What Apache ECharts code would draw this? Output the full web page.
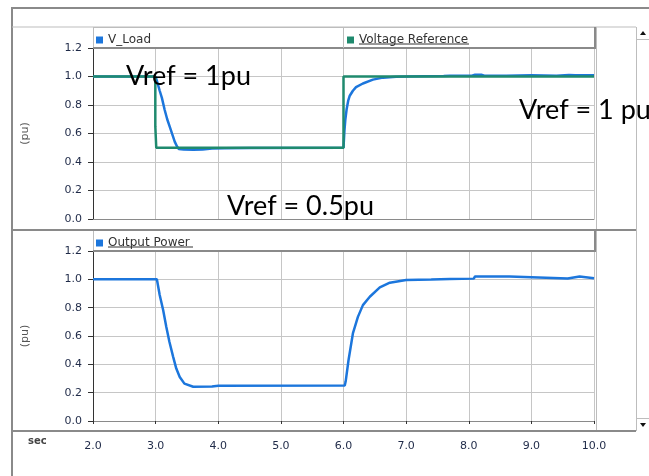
<!DOCTYPE html>
<html>
<head>
<meta charset="utf-8">
<script src="https://cdn.jsdelivr.net/npm/echarts@6/dist/echarts.min.js"></script>
<style>
  html, body { margin: 0; padding: 0; background: #ffffff; }
  #chart { width: 649px; height: 476px; }
</style>
</head>
<body>
<div id="chart"></div>
<script>
// Time base (seconds) and per-unit values for each trace
const vLoadTime   = [2.0, 3.0, 3.02, 3.065, 3.1, 3.145, 3.185, 3.225, 3.265, 3.305, 3.34, 3.37, 3.45, 3.6, 3.75, 3.9, 4.1, 4.5, 6.0, 6.015, 6.03, 6.05, 6.075, 6.1, 6.15, 6.2, 6.31, 6.47, 6.63, 6.84, 7.0, 7.6, 7.7, 8.05, 8.1, 8.2, 8.25, 8.6, 9.0, 9.4, 9.6, 9.7, 10.0];
const vLoadValues = [1.0, 1.0, 0.97, 0.90, 0.85, 0.765, 0.70, 0.648, 0.595, 0.543, 0.51, 0.492, 0.487, 0.486, 0.488, 0.495, 0.497, 0.499, 0.5, 0.62, 0.70, 0.77, 0.83, 0.865, 0.90, 0.925, 0.951, 0.978, 0.992, 0.999, 1.0, 1.003, 1.006, 1.006, 1.012, 1.012, 1.006, 1.006, 1.008, 1.006, 1.01, 1.008, 1.008];

const vRefTime   = [2.0, 2.995, 2.995, 3.01, 3.01, 6.0, 6.0, 10.0];
const vRefValues = [1.0, 1.0, 0.65, 0.65, 0.5, 0.5, 1.0, 1.0];

const powerTime   = [2.0, 3.02, 3.065, 3.12, 3.17, 3.22, 3.28, 3.33, 3.385, 3.46, 3.6, 3.9, 4.0, 6.02, 6.035, 6.08, 6.15, 6.23, 6.31, 6.42, 6.58, 6.74, 7.0, 7.4, 7.7, 8.08, 8.1, 8.65, 8.68, 9.58, 9.6, 9.77, 9.8, 10.0];
const powerValues = [1.0, 1.0, 0.889, 0.783, 0.665, 0.559, 0.453, 0.37, 0.311, 0.264, 0.242, 0.243, 0.248, 0.25, 0.28, 0.429, 0.618, 0.735, 0.818, 0.877, 0.943, 0.976, 0.995, 0.999, 1.003, 1.005, 1.02, 1.02, 1.006, 1.006, 1.02, 1.02, 1.008, 1.008];

const seriesNames = ['V_Load', 'Voltage Reference', 'Output Power'];
const yTicks = ['0.0', '0.2', '0.4', '0.6', '0.8', '1.0', '1.2'];
const xTicks = ['2.0', '3.0', '4.0', '5.0', '6.0', '7.0', '8.0', '9.0', '10.0'];
const notes = ['Vref = 1pu', 'Vref = 0.5pu', 'Vref = 1 pu'];

const pairs = (t, v) => t.map((x, i) => [x, v[i]]);

const UI_FONT = 'DejaVu Sans';
const TICK_COLOR = '#1f2a48';
const FRAME = '#8a8a8a';
const LIGHT = '#bdbdbd';
const GRID_LINE = '#c6c6c6';

function valueAxis(gridIndex) {
  return {
    type: 'value', gridIndex, min: 0, max: 1.2, interval: 0.2,
    name: '(pu)', nameLocation: 'middle', nameGap: 62, nameRotate: 90,
    nameTextStyle: { color: '#555', fontFamily: UI_FONT, fontSize: 11 },
    axisLine: { show: true, lineStyle: { color: '#333', width: 1 } },
    axisTick: { show: true, length: 5, lineStyle: { color: '#333' } },
    axisLabel: {
      margin: 11, color: TICK_COLOR, fontFamily: UI_FONT, fontSize: 11,
      formatter: v => yTicks[Math.round(v / 0.2)]
    },
    splitLine: { show: true, lineStyle: { color: GRID_LINE, width: 1 } }
  };
}

function timeAxis(gridIndex, extra) {
  return Object.assign({
    type: 'value', gridIndex, min: 2, max: 10, interval: 1,
    axisLine: { show: true, onZero: false, lineStyle: { color: FRAME, width: 1 } },
    axisTick: { show: false },
    axisLabel: { show: false },
    splitLine: { show: true, lineStyle: { color: GRID_LINE, width: 1 } }
  }, extra || {});
}

const line = (x1, y1, x2, y2, color, w) => ({
  type: 'line', silent: true, z: 1,
  shape: { x1, y1, x2, y2 }, style: { stroke: color, lineWidth: w }
});

const note = (text, x, y) => ({
  type: 'text', z: 100, silent: true,
  style: { text, x, y, fill: '#000', font: '27px Lato', textVerticalAlign: 'middle' }
});

const legendText = { color: '#333', fontFamily: UI_FONT, fontSize: 12 };

const chart = echarts.init(document.getElementById('chart'), null, { renderer: 'canvas' });

chart.setOption({
  animation: false,
  backgroundColor: '#ffffff',
  grid: [
    { left: 93, right: 55, top: 48, height: 171, containLabel: false },
    { left: 93, right: 55, top: 251, height: 170, containLabel: false }
  ],
  xAxis: [
    timeAxis(0),
    timeAxis(1),
    // time scale printed below the lower panel
    timeAxis(1, {
      position: 'bottom', offset: 11,
      axisLine: { show: false },
      axisTick: { show: true, length: 3, lineStyle: { color: '#333' } },
      axisLabel: {
        show: true, margin: 9, color: TICK_COLOR, fontFamily: UI_FONT, fontSize: 11,
        formatter: v => xTicks[Math.round(v - 2)]
      },
      splitLine: { show: false }
    })
  ],
  yAxis: [valueAxis(0), valueAxis(1)],
  legend: [
    {
      data: [seriesNames[0]], left: 96, top: 34, padding: 0,
      icon: 'rect', itemWidth: 7, itemHeight: 7, textStyle: legendText
    },
    {
      data: [seriesNames[1]], left: 347, top: 34, padding: 0,
      icon: 'rect', itemWidth: 7, itemHeight: 7, textStyle: legendText
    },
    {
      data: [seriesNames[2]], left: 96, top: 237, padding: 0,
      icon: 'rect', itemWidth: 7, itemHeight: 7, textStyle: legendText
    }
  ],
  series: [
    {
      name: seriesNames[0], type: 'line', xAxisIndex: 0, yAxisIndex: 0,
      data: pairs(vLoadTime, vLoadValues), showSymbol: false, z: 3,
      color: '#1c76dc', lineStyle: { width: 2.5, color: '#1c76dc' }
    },
    {
      name: seriesNames[1], type: 'line', xAxisIndex: 0, yAxisIndex: 0,
      data: pairs(vRefTime, vRefValues), showSymbol: false, z: 4,
      color: '#1f8a6e', lineStyle: { width: 2.5, color: '#1f8a6e' }
    },
    {
      name: seriesNames[2], type: 'line', xAxisIndex: 1, yAxisIndex: 1,
      data: pairs(powerTime, powerValues), showSymbol: false, z: 3,
      color: '#1c76dc', lineStyle: { width: 2.5, color: '#1c76dc' }
    }
  ],
  graphic: [
    // outer frame
    line(11, 8, 649, 8, FRAME, 2),
    line(12, 8, 12, 476, FRAME, 2),
    line(12, 27, 636, 27, LIGHT, 1),
    line(636.5, 27, 636.5, 431, LIGHT, 1),
    line(596.5, 27, 596.5, 431, LIGHT, 1),
    line(12, 230, 636, 230, FRAME, 2),
    line(12, 431, 636, 431, FRAME, 2),
    // legend strips
    line(93, 27.5, 595, 27.5, LIGHT, 1),
    line(93.5, 27, 93.5, 48, LIGHT, 1),
    line(93, 48, 596, 48, FRAME, 2),
    line(595, 27, 595, 49, FRAME, 2),
    line(343.5, 28, 343.5, 48, LIGHT, 1),
    line(93.5, 231, 93.5, 251, LIGHT, 1),
    line(93, 251, 596, 251, FRAME, 2),
    line(595, 230, 595, 252, FRAME, 2),
    // underlined legend labels
    line(359, 44, 469, 44, '#333', 1),
    line(108, 247, 193, 247, '#333', 1),
    // scroll arrows
    line(636, 39.5, 649, 39.5, LIGHT, 1),
    line(636, 418.5, 649, 418.5, LIGHT, 1),
    { type: 'polygon', silent: true, shape: { points: [[640, 35], [646, 35], [643, 31]] }, style: { fill: '#111' } },
    { type: 'polygon', silent: true, shape: { points: [[640, 423], [646, 423], [643, 427]] }, style: { fill: '#111' } },
    // axis caption
    { type: 'text', silent: true, style: { text: 'sec', x: 28, y: 441, fill: '#444', font: 'bold 10px "DejaVu Sans"', textVerticalAlign: 'middle' } },
    // set-point annotations
    note(notes[0], 126, 76),
    note(notes[1], 227, 206),
    note(notes[2], 519, 110)
  ]
});
</script>
</body>
</html>
